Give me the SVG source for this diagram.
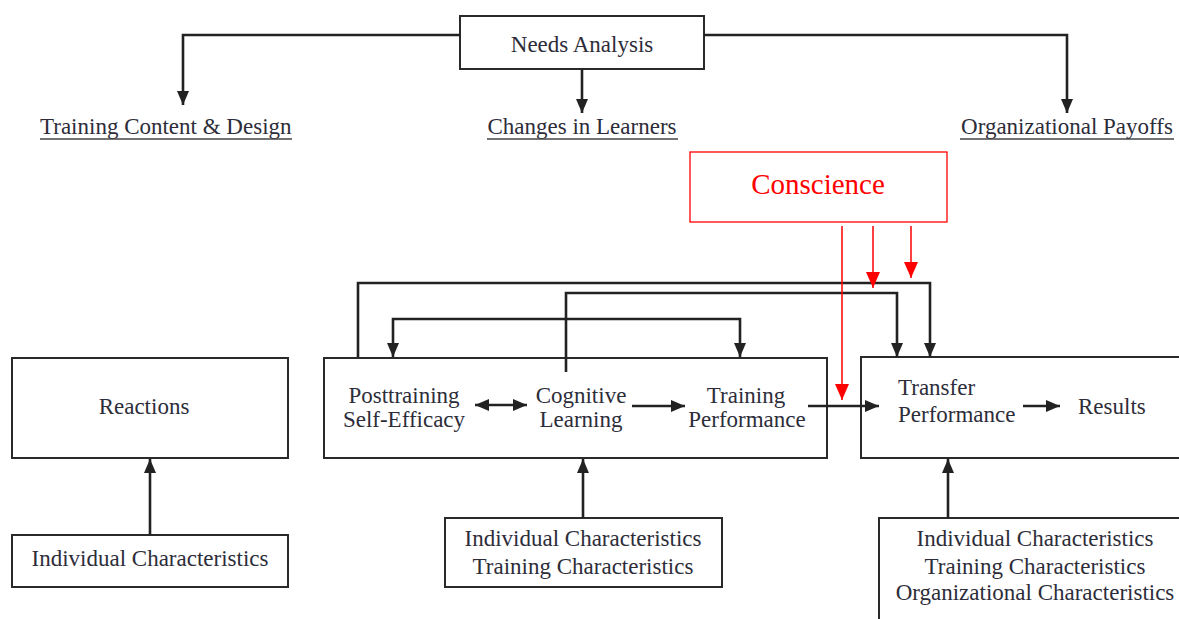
<svg xmlns="http://www.w3.org/2000/svg" width="1179" height="619" viewBox="0 0 1179 619">
<style>
  .box { fill: #fff; stroke: #2a2a2a; stroke-width: 2; }
  .t { font-family: "Liberation Serif", "Times New Roman", serif; font-size: 23px; fill: #2d2d3a; }
  .c { text-anchor: middle; }
  .ln { fill: none; stroke: #222; stroke-width: 2.6; }
  .ul { stroke: #444; stroke-width: 1.6; }
  .red { fill: none; stroke: #ff0000; stroke-width: 1.5; }
</style>
<defs>
  <marker id="ah" viewBox="0 0 14 12" refX="14" refY="6" markerWidth="14" markerHeight="12" markerUnits="userSpaceOnUse" orient="auto-start-reverse">
    <path d="M0,0 L14,6 L0,12 z" fill="#222"/>
  </marker>
  <marker id="rh" viewBox="0 0 16 14" refX="16" refY="7" markerWidth="16" markerHeight="14" markerUnits="userSpaceOnUse" orient="auto">
    <path d="M0,0 L16,7 L0,14 z" fill="#ff0000"/>
  </marker>
</defs>

<g id="needs-analysis">
  <rect class="box" x="460" y="16" width="244" height="53"/>
  <text class="t c" x="582" y="52">Needs Analysis</text>
</g>

<g id="training-content-design">
  <text class="t" x="40" y="134">Training Content &amp; Design</text>
  <line class="ul" x1="40" y1="139" x2="292" y2="139"/>
</g>

<g id="changes-in-learners">
  <text class="t c" x="582" y="134">Changes in Learners</text>
  <line class="ul" x1="487" y1="139" x2="678" y2="139"/>
</g>

<g id="organizational-payoffs">
  <text class="t c" x="1067" y="134">Organizational Payoffs</text>
  <line class="ul" x1="960" y1="139" x2="1174" y2="139"/>
</g>

<g id="conscience">
  <rect x="690" y="152" width="257" height="70" fill="#fff" stroke="#ff0000" stroke-width="1.3"/>
  <text x="818" y="194" text-anchor="middle" font-family="Liberation Serif, Times New Roman, serif" font-size="29" fill="#ff0000">Conscience</text>
</g>

<g id="reactions">
  <rect class="box" x="12" y="358" width="276" height="100"/>
  <text class="t c" x="144" y="414">Reactions</text>
</g>

<g id="individual-characteristics-1">
  <rect class="box" x="12" y="535" width="276" height="52"/>
  <text class="t c" x="150" y="566">Individual Characteristics</text>
</g>

<g id="learning-box">
  <rect class="box" x="324" y="358" width="503" height="100"/>
  <text class="t c" x="404" y="403">Posttraining</text>
  <text class="t c" x="404" y="427">Self-Efficacy</text>
  <text class="t c" x="581" y="403">Cognitive</text>
  <text class="t c" x="581" y="427">Learning</text>
  <text class="t c" x="746" y="403">Training</text>
  <text class="t c" x="747" y="427">Performance</text>
</g>

<g id="individual-training-characteristics">
  <rect class="box" x="445" y="518" width="277" height="69"/>
  <text class="t c" x="583" y="546">Individual Characteristics</text>
  <text class="t c" x="583" y="574">Training Characteristics</text>
</g>

<g id="transfer-box">
  <rect class="box" x="861" y="357" width="340" height="101"/>
  <text class="t" x="898" y="395">Transfer</text>
  <text class="t" x="898" y="422">Performance</text>
  <text class="t" x="1078" y="414">Results</text>
</g>

<g id="all-characteristics">
  <rect class="box" x="879" y="518" width="330" height="130"/>
  <text class="t c" x="1035" y="546">Individual Characteristics</text>
  <text class="t c" x="1035" y="574">Training Characteristics</text>
  <text class="t c" x="1035" y="600">Organizational Characteristics</text>
</g>

<g id="connectors">
  <path class="ln" d="M460,35 H183 V105" marker-end="url(#ah)"/>
  <path class="ln" d="M582,69 V113" marker-end="url(#ah)"/>
  <path class="ln" d="M704,35 H1067 V113" marker-end="url(#ah)"/>
  <path class="ln" d="M150,535 V459" marker-end="url(#ah)"/>
  <path class="ln" d="M583,518 V459" marker-end="url(#ah)"/>
  <path class="ln" d="M948,518 V459" marker-end="url(#ah)"/>
  <path class="ln" d="M393,357 V319 H740 V357" marker-start="url(#ah)" marker-end="url(#ah)"/>
  <path class="ln" d="M566,372 V293 H897 V357" marker-end="url(#ah)"/>
  <path class="ln" d="M358,357 V283 H930 V357" marker-end="url(#ah)"/>
  <path class="ln" d="M808,406 H879" marker-end="url(#ah)"/>
  <path class="ln" d="M475,405 H527" marker-start="url(#ah)" marker-end="url(#ah)"/>
  <path class="ln" d="M632,406 H685" marker-end="url(#ah)"/>
  <path class="ln" d="M1023,406 H1060" marker-end="url(#ah)"/>
  <path class="red" d="M842,226 V400" marker-end="url(#rh)"/>
  <path class="red" d="M873,226 V288" marker-end="url(#rh)"/>
  <path class="red" d="M911,226 V278" marker-end="url(#rh)"/>
</g>
</svg>
